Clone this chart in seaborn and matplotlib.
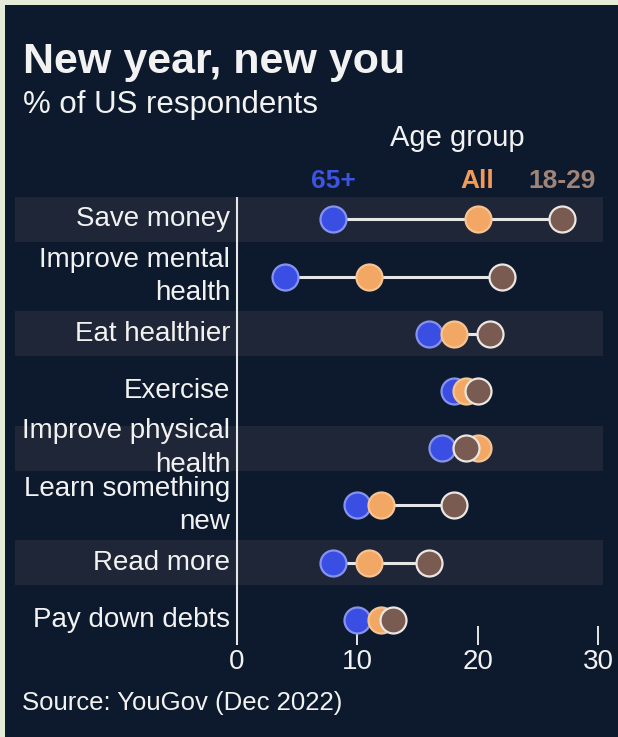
import numpy as np
import pandas as pd
import matplotlib
matplotlib.use("Agg")
import matplotlib.pyplot as plt
import seaborn as sns
from matplotlib.patches import Rectangle

# ---- data -------------------------------------------------------------
resolutions = [
    "Save money",
    "Improve mental\nhealth",
    "Eat healthier",
    "Exercise",
    "Improve physical\nhealth",
    "Learn something\nnew",
    "Read more",
    "Pay down debts",
]
age_groups = ["65+", "All", "18-29"]
pct_65_plus = [8, 4, 16, 18, 17, 10, 8, 10]
pct_all = [20, 11, 18, 19, 20, 12, 11, 12]
pct_18_29 = [27, 22, 21, 20, 19, 18, 16, 13]
xticks = [0, 10, 20, 30]

# ---- styling ------------------------------------------------------------
BORDER = "#e4ecd9"
NAVY = "#0d1a2d"
BAND = "#1f2637"
TEXT = "#f2f2f2"
LINE = "#e6e6e6"
FILL = {"65+": "#3a4ee4", "All": "#f2a764", "18-29": "#7a5b52"}
EDGE = {"65+": "#8593ee", "All": "#f6c391", "18-29": "#ebe6e2"}
LABEL = {"65+": "#3f53e2", "All": "#f39a58", "18-29": "#a08478"}

plt.rcParams["font.family"] = ["Liberation Sans", "DejaVu Sans"]

W, H = 618, 737
fig = plt.figure(figsize=(W / 100, H / 100), dpi=100)
fig.patch.set_facecolor(BORDER)
fig.patches.append(
    Rectangle((5 / W, 0), 1, 1 - 5 / H, transform=fig.transFigure,
              facecolor=NAVY, edgecolor="none", zorder=-10)
)

# axes spans the full band width; x=0 sits at the vertical rule
ax = fig.add_axes([15 / W, 1 - 645 / H, 588 / W, 448 / H])
ax.set_facecolor("none")

rows = np.arange(len(resolutions))
df = pd.DataFrame({
    "resolution": np.tile(resolutions, len(age_groups)),
    "row": np.tile(rows, len(age_groups)),
    "age": np.repeat(age_groups, len(resolutions)),
    "pct": np.concatenate([pct_65_plus, pct_all, pct_18_29]),
})

# alternating row bands
for i in rows[::2]:
    ax.axhspan(i - 0.393, i + 0.393, color=BAND, lw=0, zorder=0)

# connector from lowest to highest share
span = df.groupby("row")["pct"].agg(["min", "max"])
ax.hlines(span.index, span["min"], span["max"], color=LINE, lw=2.2, zorder=2.6)

for grp in age_groups:
    sub = df[df["age"] == grp]
    sns.scatterplot(data=sub, x="pct", y="row", color=FILL[grp],
                    edgecolor=EDGE[grp], linewidth=1.6, s=350,
                    ax=ax, zorder=3, legend=False)

ax.axvline(0, color=LINE, lw=1.5, zorder=2.55)

ax.set_xlim(-18.45, 30.42)
ax.set_ylim(7.44, -0.393)
ax.set_xticks(xticks)
ax.set_xticklabels([str(t) for t in xticks])
ax.tick_params(axis="x", direction="in", length=14, width=1.4, color=LINE,
               labelcolor=TEXT, labelsize=20, pad=3)
ax.set_yticks([])
ax.set_xlabel("")
ax.set_ylabel("")
for s in ax.spines.values():
    s.set_visible(False)

# category labels, right-aligned against the rule
for i, name in zip(rows, resolutions):
    ax.text(-0.55, i, name, ha="right", va="center", color=TEXT,
            fontsize=20, linespacing=1.38)

# age-group key above the first row
first_row = {"65+": pct_65_plus[0], "All": pct_all[0], "18-29": pct_18_29[0]}
for grp in age_groups:
    ax.text(first_row[grp], -0.55, grp, ha="center", va="baseline",
            color=LABEL[grp], fontsize=19, fontweight="bold")

def ftext(x, y, s, **kw):
    fig.text(x / W, 1 - y / H, s, **kw)

ftext(23, 73, "New year, new you", fontsize=31, fontweight="bold",
      color=TEXT, va="baseline")
ftext(23, 113, "% of US respondents", fontsize=22.5, color=TEXT, va="baseline")
ftext(457, 146, "Age group", fontsize=21, color=TEXT, ha="center", va="baseline")
ftext(22, 710, "Source: YouGov (Dec 2022)", fontsize=18.5, color=TEXT,
      va="baseline")

fig.savefig("out.png", dpi=100, facecolor=fig.get_facecolor())
